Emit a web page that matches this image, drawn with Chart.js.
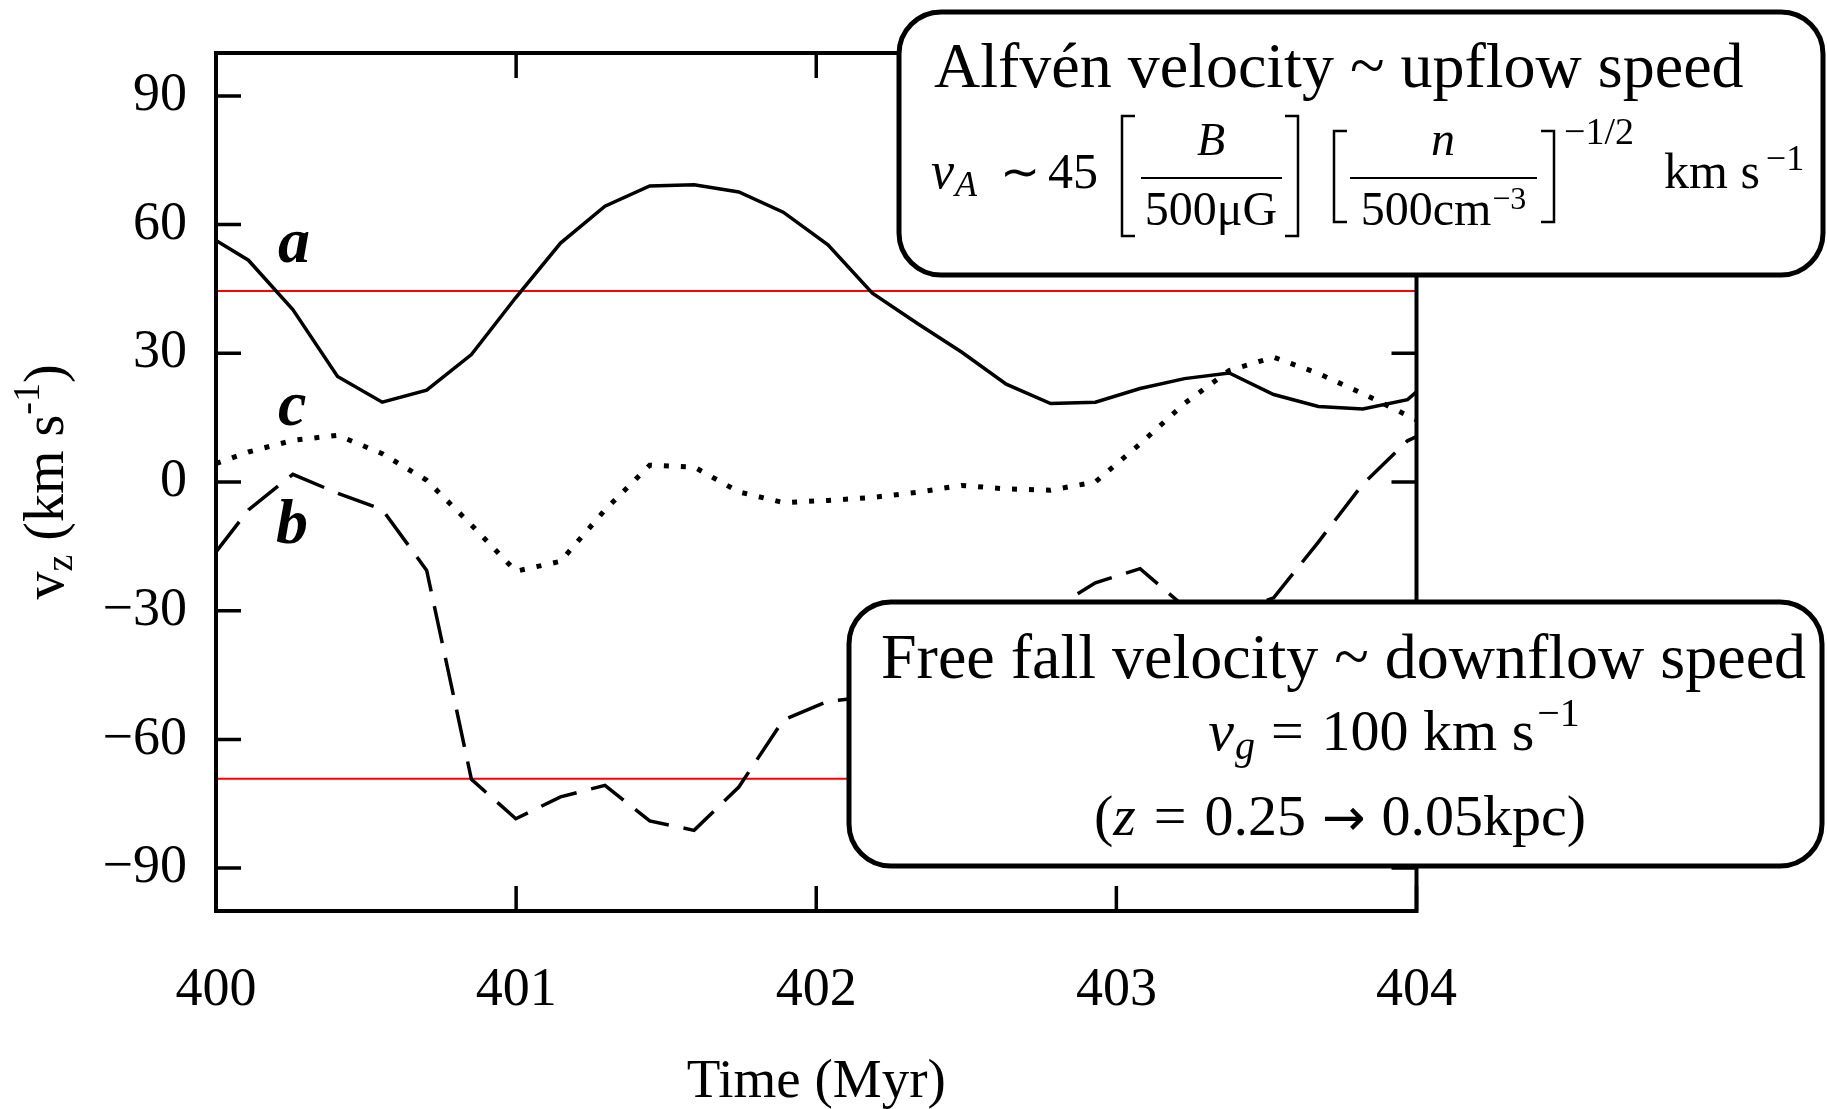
<!DOCTYPE html>
<html><head><meta charset="utf-8">
<script src="https://cdn.jsdelivr.net/npm/chart.js@4/dist/chart.umd.min.js"></script>
<style>html,body{margin:0;padding:0;background:#fff;}canvas{display:block;}</style>
</head><body>
<canvas id="c" width="1827" height="1109" style="width:1827px;height:1109px"></canvas>
<script>
// ---- data ----
const times = [400.000, 400.108, 400.256, 400.405, 400.554, 400.702, 400.851, 400.999, 401.148, 401.296,
               401.445, 401.593, 401.742, 401.890, 402.039, 402.187, 402.336, 402.484, 402.633, 402.781,
               402.930, 403.079, 403.227, 403.376, 403.524, 403.673, 403.821, 403.970, 404.000];
const seriesA = [56.3, 51.7, 40.2, 24.6, 18.6, 21.4, 29.7, 43.0, 55.7, 64.3,
                 69.0, 69.3, 67.6, 62.9, 55.3, 44.0, 37.0, 30.3, 22.8, 18.3,
                 18.6, 21.8, 24.1, 25.4, 20.4, 17.6, 17.0, 19.2, 21.0];
const seriesB = [-16.3, -6.5, 1.8, -2.6, -6.4, -20.6, -69.3, -78.5, -73.4, -70.7,
                 -79.0, -81.2, -71.1, -55.5, -51.1, -50.0, -46.0, -40.0, -34.0, -30.0,
                 -23.5, -20.2, -29.1, -31.0, -27.0, -14.0, -0.5, 9.6, 10.6];
const seriesC = [4.3, 7.0, 9.7, 10.9, 6.6, 0.4, -10.0, -20.8, -18.5, -6.5,
                 3.9, 3.5, -2.3, -4.8, -4.3, -3.6, -2.4, -0.8, -1.6, -1.9,
                 0.0, 8.9, 18.3, 26.0, 29.1, 25.3, 20.6, 15.5, 14.5];
const levelTimes = [400, 404];
const upflowLevel = [44.5, 44.5];
const downflowLevel = [-69.2, -69.2];
const xTickValues = [400, 401, 402, 403, 404];
const yTickValues = [-90, -60, -30, 0, 30, 60, 90];
const curveLabels = ['a', 'b', 'c'];

// ---- helpers ----
const SERIF = '"Liberation Serif","Times New Roman",serif';
function pts(xs, ys) { return xs.map((x, i) => ({x: x, y: ys[i]})); }
function fmt(v) { return v < 0 ? '\u2212' + Math.abs(v) : String(v); }
function setFont(ctx, size, style, fam) { ctx.font = (style || '') + ' ' + size + 'px ' + (fam || SERIF); }
function txt(ctx, s, x, y, size, style, align) {
  setFont(ctx, size, style);
  ctx.textAlign = align || 'left';
  ctx.textBaseline = 'alphabetic';
  ctx.fillStyle = '#000';
  ctx.fillText(s, x, y);
  return ctx.measureText(s).width;
}
// sequential run of text items: {t, s(size), st(style), dy, g(gap after), f(family)}
function runWidth(ctx, items) {
  let w = 0;
  items.forEach(it => { setFont(ctx, it.s, it.st, it.f); w += ctx.measureText(it.t).width + (it.g || 0); });
  return w;
}
function run(ctx, items, x, y) {
  ctx.textAlign = 'left'; ctx.textBaseline = 'alphabetic'; ctx.fillStyle = '#000';
  items.forEach(it => {
    setFont(ctx, it.s, it.st, it.f);
    ctx.fillText(it.t, x, y + (it.dy || 0));
    x += ctx.measureText(it.t).width + (it.g || 0);
  });
  return x;
}
function rrect(ctx, x0, y0, x1, y1, r) {
  ctx.beginPath();
  ctx.moveTo(x0 + r, y0);
  ctx.lineTo(x1 - r, y0); ctx.arcTo(x1, y0, x1, y0 + r, r);
  ctx.lineTo(x1, y1 - r); ctx.arcTo(x1, y1, x1 - r, y1, r);
  ctx.lineTo(x0 + r, y1); ctx.arcTo(x0, y1, x0, y1 - r, r);
  ctx.lineTo(x0, y0 + r); ctx.arcTo(x0, y0, x0 + r, y0, r);
  ctx.closePath();
}
function bracket(ctx, xa, xb, y0, y1, open) {
  ctx.beginPath();
  if (open) { ctx.moveTo(xb, y0); ctx.lineTo(xa, y0); ctx.lineTo(xa, y1); ctx.lineTo(xb, y1); }
  else { ctx.moveTo(xa, y0); ctx.lineTo(xb, y0); ctx.lineTo(xb, y1); ctx.lineTo(xa, y1); }
  ctx.stroke();
}

const overlay = {
  id: 'overlay',
  afterDatasetsDraw(chart) {
    const ctx = chart.ctx, a = chart.chartArea;
    const xs = chart.scales.x, ys = chart.scales.y;
    ctx.save();
    // frame
    ctx.strokeStyle = '#000'; ctx.lineWidth = 4; ctx.lineCap = 'square';
    ctx.strokeRect(a.left, a.top, a.right - a.left, a.bottom - a.top);
    // inward ticks
    ctx.lineCap = 'butt'; ctx.lineWidth = 3.5;
    const TL = 25;
    xTickValues.forEach(v => {
      const px = xs.getPixelForValue(v);
      ctx.beginPath();
      ctx.moveTo(px, a.bottom); ctx.lineTo(px, a.bottom - TL);
      ctx.moveTo(px, a.top); ctx.lineTo(px, a.top + TL);
      ctx.stroke();
    });
    yTickValues.forEach(v => {
      const py = ys.getPixelForValue(v);
      ctx.beginPath();
      ctx.moveTo(a.left, py); ctx.lineTo(a.left + TL, py);
      ctx.moveTo(a.right, py); ctx.lineTo(a.right - TL, py);
      ctx.stroke();
    });
    // curve labels
    txt(ctx, curveLabels[0], 278, 262, 64, 'italic bold');
    txt(ctx, curveLabels[1], 276, 543, 64, 'italic bold');
    txt(ctx, curveLabels[2], 278, 425, 64, 'italic bold');

    // ---- top box ----
    ctx.lineWidth = 5; ctx.strokeStyle = '#000'; ctx.fillStyle = '#fff';
    rrect(ctx, 899, 12, 1823, 275, 42); ctx.fill(); ctx.stroke();
    txt(ctx, 'Alfv\u00e9n velocity ~ upflow speed', 934, 87, 64);
    run(ctx, [{t: 'v', s: 52, st: 'italic', g: 1}, {t: 'A', s: 36, st: 'italic', dy: 8}], 931, 188);
    txt(ctx, '\u223c', 1000, 188, 48);
    txt(ctx, '45', 1048, 188, 50);
    ctx.lineWidth = 2.5; ctx.lineCap = 'butt';
    bracket(ctx, 1122, 1135, 116, 236, true);
    txt(ctx, 'B', 1211, 155, 46, 'italic', 'center');
    ctx.lineWidth = 2;
    ctx.beginPath(); ctx.moveTo(1141, 178); ctx.lineTo(1282, 178); ctx.stroke();
    txt(ctx, '500\u03bcG', 1211, 225, 48, '', 'center');
    ctx.lineWidth = 2.5;
    bracket(ctx, 1285, 1298, 116, 236, false);
    bracket(ctx, 1334, 1347, 131, 222, true);
    txt(ctx, 'n', 1443, 155, 48, 'italic', 'center');
    ctx.lineWidth = 2;
    ctx.beginPath(); ctx.moveTo(1350, 178); ctx.lineTo(1537, 178); ctx.stroke();
    const den = [{t: '500cm', s: 48, g: 1}, {t: '\u22123', s: 32, dy: -16}];
    run(ctx, den, 1443.5 - runWidth(ctx, den) / 2, 225);
    ctx.lineWidth = 2.5;
    bracket(ctx, 1541, 1554, 131, 222, false);
    txt(ctx, '\u22121/2', 1564, 144, 38);
    run(ctx, [{t: 'km s', s: 50, g: 6}, {t: '\u22121', s: 36, dy: -18}], 1664, 188);

    // ---- bottom box ----
    ctx.lineWidth = 5; ctx.fillStyle = '#fff';
    rrect(ctx, 849, 602, 1822, 866, 42); ctx.fill(); ctx.stroke();
    txt(ctx, 'Free fall velocity ~ downflow speed', 881, 678, 64);
    const l2 = [{t: 'v', s: 58, st: 'italic', g: 1}, {t: 'g', s: 40, st: 'italic', dy: 9, g: 16},
                {t: '=', s: 58, g: 18}, {t: '100 km s', s: 58, g: 3}, {t: '\u22121', s: 40, dy: -24}];
    run(ctx, l2, 1394 - runWidth(ctx, l2) / 2, 750);
    const l3 = [{t: '(', s: 58}, {t: 'z', s: 58, st: 'italic', g: 18}, {t: '=', s: 58, g: 18},
                {t: '0.25', s: 58, g: 16}, {t: '\u2192', s: 52, f: '"DejaVu Sans",sans-serif', g: 16},
                {t: '0.05kpc)', s: 58}];
    run(ctx, l3, 1340 - runWidth(ctx, l3) / 2, 835);
    ctx.restore();
  },
  afterDraw(chart) {
    const ctx = chart.ctx, a = chart.chartArea;
    ctx.save();
    // x title
    txt(ctx, 'Time (Myr)', (a.left + a.right) / 2, 1097, 55, '', 'center');
    // y title (rotated)
    ctx.translate(63, (a.top + a.bottom) / 2);
    ctx.rotate(-Math.PI / 2);
    const parts = [{t: 'v', s: 56}, {t: 'z', s: 38, dy: 9}, {t: ' (km s', s: 56}, {t: '-1', s: 38, dy: -24}, {t: ')', s: 56}];
    run(ctx, parts, -runWidth(ctx, parts) / 2, 0);
    ctx.restore();
  }
};

new Chart(document.getElementById('c'), {
  type: 'line',
  data: {
    datasets: [
      {label: 'a', data: pts(times, seriesA), borderColor: '#000', borderWidth: 3.5, pointRadius: 0, tension: 0, fill: false},
      {label: 'b', data: pts(times, seriesB), borderColor: '#000', borderWidth: 3.5, borderDash: [38, 15], pointRadius: 0, tension: 0, fill: false},
      {label: 'c', data: pts(times, seriesC), borderColor: '#000', borderWidth: 5, borderDash: [5, 12], borderCapStyle: 'butt', pointRadius: 0, tension: 0, fill: false},
      {label: 'vA', data: pts(levelTimes, upflowLevel), borderColor: '#ff0000', borderWidth: 2, pointRadius: 0, fill: false},
      {label: 'vg', data: pts(levelTimes, downflowLevel), borderColor: '#ff0000', borderWidth: 2, pointRadius: 0, fill: false}
    ]
  },
  options: {
    responsive: false,
    animation: false,
    devicePixelRatio: 1,
    layout: {padding: {left: 0, top: 53, right: 410.5, bottom: 0}},
    plugins: {legend: {display: false}, tooltip: {enabled: false}},
    scales: {
      x: {
        type: 'linear', min: 400, max: 404,
        grid: {display: false, drawTicks: false},
        border: {display: false},
        afterBuildTicks: s => { s.ticks = xTickValues.map(v => ({value: v})); },
        afterFit: s => { s.height = 198; s.paddingLeft = 0; s.paddingRight = 0; },
        ticks: {color: '#000', padding: 47, font: {family: SERIF, size: 54}, maxRotation: 0, callback: v => fmt(v)}
      },
      y: {
        type: 'linear', min: -100, max: 100,
        grid: {display: false, drawTicks: false},
        border: {display: false},
        afterBuildTicks: s => { s.ticks = yTickValues.map(v => ({value: v})); },
        afterFit: s => { s.width = 216; s.paddingTop = 0; s.paddingBottom = 0; },
        ticks: {color: '#000', padding: 29, font: {family: SERIF, size: 54}, callback: v => fmt(v)}
      }
    }
  },
  plugins: [overlay]
});
</script>
</body></html>
